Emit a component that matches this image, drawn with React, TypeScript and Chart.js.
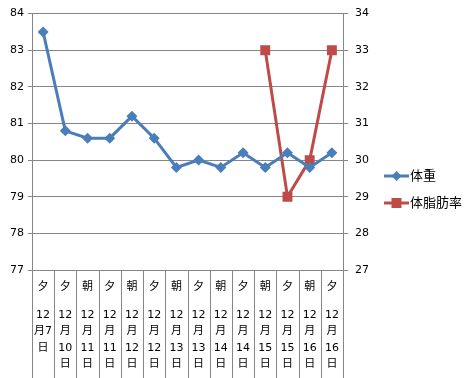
import React, { useEffect, useRef } from "react";
import { Chart, registerables } from "chart.js";

Chart.register(...registerables);

const sessions = ["夕", "夕", "朝", "夕", "朝", "夕", "朝", "夕", "朝", "夕", "朝", "夕", "朝", "夕"];
const dates = ["12月7日", "12月10日", "12月11日", "12月11日", "12月12日", "12月12日", "12月13日", "12月13日", "12月14日", "12月14日", "12月15日", "12月15日", "12月16日", "12月16日"];
const weight = [83.5, 80.8, 80.6, 80.6, 81.2, 80.6, 79.8, 80.0, 79.8, 80.2, 79.8, 80.2, 79.8, 80.2];
const bodyFat = [null, null, null, null, null, null, null, null, null, null, 33, 29, 30, 33];
const seriesNames = ["体重", "体脂肪率"];
const colors = ["#4A7EBB", "#BE4B48"];

const GRID = "#868686";
const FONT = "'DejaVu Sans', 'Noto Sans CJK JP', sans-serif";

function wrapText(ctx: CanvasRenderingContext2D, text: string, maxW: number): string[] {
  const tokens = text.match(/[0-9]+|./g) || [];
  const lines: string[] = [];
  let cur = "";
  for (const t of tokens) {
    const cand = cur + t;
    if (cur && ctx.measureText(cand).width > maxW) {
      lines.push(cur);
      cur = t;
    } else cur = cand;
  }
  if (cur) lines.push(cur);
  return lines;
}

const catPlugin = {
  id: "cats",
  afterDraw(chart: any) {
    const ctx = chart.ctx as CanvasRenderingContext2D;
    const area = chart.chartArea;
    const xs = chart.scales.x;
    const n = sessions.length;
    const w = (area.right - area.left) / n;
    ctx.save();
    ctx.strokeStyle = GRID;
    ctx.lineWidth = 1;
    for (let k = 0; k <= n; k++) {
      const x = Math.round(area.left + k * w) + 0.5;
      ctx.beginPath();
      ctx.moveTo(x, area.bottom);
      ctx.lineTo(x, chart.height);
      ctx.stroke();
    }
    ctx.fillStyle = "#000";
    ctx.textAlign = "center";
    ctx.textBaseline = "middle";
    ctx.font = `11px ${FONT}`;
    for (let i = 0; i < n; i++) {
      const cx = xs.getPixelForValue(i);
      ctx.fillText(sessions[i], cx, area.bottom + 17);
      const lines = wrapText(ctx, dates[i], 20);
      lines.forEach((ln, j) => {
        ctx.fillText(ln, cx, area.bottom + 45 + j * 16.5);
      });
    }
    // legend
    const ly = [176, 203];
    ctx.textAlign = "left";
    ctx.font = `13px ${FONT}`;
    for (let s = 0; s < 2; s++) {
      const y = ly[s];
      ctx.strokeStyle = colors[s];
      ctx.lineWidth = 3;
      ctx.beginPath();
      ctx.moveTo(384, y);
      ctx.lineTo(409, y);
      ctx.stroke();
      ctx.fillStyle = colors[s];
      ctx.beginPath();
      const mx = 396.5;
      if (s === 0) {
        ctx.moveTo(mx - 5, y);
        ctx.lineTo(mx, y - 5);
        ctx.lineTo(mx + 5, y);
        ctx.lineTo(mx, y + 5);
        ctx.closePath();
      } else {
        ctx.rect(mx - 5, y - 5, 10, 10);
      }
      ctx.fill();
      ctx.fillStyle = "#000";
      ctx.fillText(seriesNames[s], 410, y + 1);
    }
    ctx.restore();
  },
};

export default function App() {
  const ref = useRef<HTMLCanvasElement | null>(null);
  useEffect(() => {
    document.body.style.margin = "0";
    const chart = new Chart(ref.current!, {
      type: "line",
      data: {
        labels: sessions.map((s, i) => s + " " + dates[i]),
        datasets: [
          {
            label: seriesNames[0],
            data: weight,
            borderColor: colors[0],
            backgroundColor: colors[0],
            borderWidth: 3,
            pointStyle: "rectRot",
            pointRadius: 5.5,
            pointBorderWidth: 0,
            tension: 0,
            yAxisID: "y",
          },
          {
            label: seriesNames[1],
            data: bodyFat as any,
            borderColor: colors[1],
            backgroundColor: colors[1],
            borderWidth: 3,
            pointStyle: "rect",
            pointRadius: 7,
            pointBorderWidth: 0,
            tension: 0,
            spanGaps: false,
            yAxisID: "y1",
          },
        ],
      },
      options: {
        responsive: false,
        animation: false,
        layout: { padding: { top: 11, left: 0, right: 0, bottom: 0 } },
        plugins: { legend: { display: false }, tooltip: { enabled: false } },
        scales: {
          x: {
            type: "category",
            offset: true,
            grid: { display: false },
            border: { color: GRID, width: 1 },
            ticks: { display: false },
            afterFit: (s: any) => {
              s.height = 108;
            },
          },
          y: {
            position: "left",
            min: 77,
            max: 84,
            ticks: { stepSize: 1, color: "#000", font: { family: FONT, size: 11 }, padding: 4 },
            grid: { color: GRID, tickLength: 4 },
            border: { color: GRID },
            afterFit: (s: any) => {
              s.width = 32;
            },
          },
          y1: {
            position: "right",
            min: 27,
            max: 34,
            ticks: { stepSize: 1, color: "#000", font: { family: FONT, size: 11 }, padding: 7 },
            grid: { drawOnChartArea: false, color: GRID, tickLength: 5 },
            border: { color: GRID },
            afterFit: (s: any) => {
              s.width = 133;
            },
          },
        },
      },
      plugins: [catPlugin],
    });
    return () => chart.destroy();
  }, []);
  return (
    <div style={{ width: 476, height: 378 }}>
      <canvas ref={ref} width={476} height={378} style={{ display: "block" }} />
    </div>
  );
}
